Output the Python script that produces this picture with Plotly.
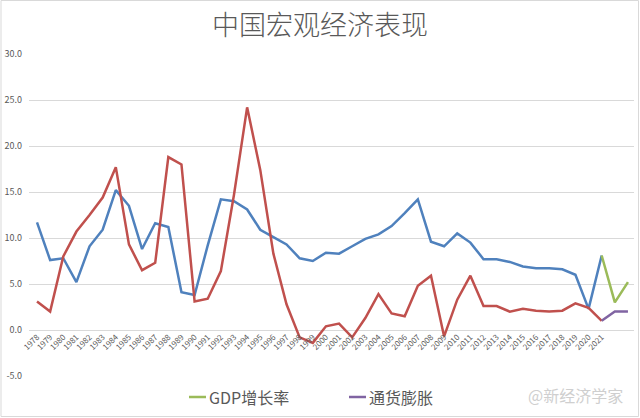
import plotly.graph_objects as go

years = list(range(1978, 2022))
gdp = [11.7, 7.6, 7.8, 5.2, 9.1, 10.9, 15.2, 13.5, 8.8, 11.6, 11.2, 4.1, 3.8, 9.2,
       14.2, 14.0, 13.1, 10.9, 10.1, 9.3, 7.8, 7.5, 8.4, 8.3, 9.1, 9.9, 10.4, 11.3,
       12.7, 14.2, 9.6, 9.1, 10.5, 9.5, 7.7, 7.7, 7.4, 6.9, 6.7, 6.7, 6.6, 6.0, 2.3, 8.1]
cpi = [3.1, 2.0, 8.0, 10.7, 12.5, 14.4, 17.7, 9.3, 6.5, 7.3, 18.8, 18.0, 3.1, 3.4,
       6.4, 14.7, 24.2, 17.4, 8.3, 2.8, -0.8, -1.4, 0.4, 0.7, -0.8, 1.3, 3.9, 1.8,
       1.5, 4.8, 5.9, -0.7, 3.3, 5.9, 2.6, 2.6, 2.0, 2.3, 2.1, 2.0, 2.1, 2.9, 2.4, 1.0]
fc_years = [2021, 2022, 2023]
gdp_fc = [8.1, 3.0, 5.2]
cpi_fc = [1.0, 2.0, 2.0]
tick_labels = [str(y) for y in years]
y_ticks = [-5, 0, 5, 10, 15, 20, 25, 30]

BLUE, RED, GREEN, PURPLE = "#4F81BD", "#C0504D", "#9BBB59", "#8064A2"
GRAY = "#595959"
FONT = "Noto Sans CJK SC"

fig = go.Figure()
fig.add_trace(go.Scatter(x=years, y=gdp, mode="lines", line=dict(color=BLUE, width=2.5),
                         name="GDP增长率", showlegend=False))
fig.add_trace(go.Scatter(x=years, y=cpi, mode="lines", line=dict(color=RED, width=2.5),
                         name="通货膨胀", showlegend=False))
fig.add_trace(go.Scatter(x=fc_years, y=gdp_fc, mode="lines", line=dict(color=GREEN, width=2.5),
                         name="GDP增长率", showlegend=False))
fig.add_trace(go.Scatter(x=fc_years, y=cpi_fc, mode="lines", line=dict(color=PURPLE, width=2.5),
                         name="通货膨胀", showlegend=False))

L, R, T, B = 29, 634, 54, 376
W, H = 640, 418
pw, ph = R - L, B - T

def px(x):
    return (x - L) / pw

def py(y):
    return (B - y) / ph

legend_y = 397

fig.update_layout(
    width=W, height=H,
    margin=dict(l=L, r=W - R, t=T, b=H - B, autoexpand=False),
    paper_bgcolor="white", plot_bgcolor="white",
    font=dict(family=FONT, color=GRAY),
    title=dict(text="中国宏观经济表现", x=0.5, xanchor="center", y=1 - 26 / H, yanchor="middle",
               yref="container", font=dict(size=27, color=GRAY, family=FONT, weight=300)),
    xaxis=dict(range=[1977.39, 2023.46], tickmode="array", tickvals=years, ticktext=tick_labels,
               tickangle=-45, tickfont=dict(size=8, color=GRAY), showgrid=False, zeroline=False,
               showline=False, ticks="", anchor="free", position=5 / 35, automargin=False),
    yaxis=dict(range=[-5, 30], tickmode="array", tickvals=y_ticks,
               ticktext=[f"{v:.1f}" for v in y_ticks], tickfont=dict(size=9, color=GRAY),
               showgrid=True, gridcolor="#D9D9D9", gridwidth=1, zeroline=False, showline=False,
               ticks="", ticklabelstandoff=6, automargin=False),
    shapes=[
        dict(type="rect", xref="paper", yref="paper", x0=px(1), x1=px(638.5),
             y0=py(416.5), y1=py(0.5), line=dict(color="#D9D9D9", width=1)),
        dict(type="line", xref="paper", yref="paper", x0=px(189), x1=px(206),
             y0=py(legend_y), y1=py(legend_y), line=dict(color=GREEN, width=2.5)),
        dict(type="line", xref="paper", yref="paper", x0=px(349), x1=px(366),
             y0=py(legend_y), y1=py(legend_y), line=dict(color=PURPLE, width=2.5)),
    ],
    annotations=[
        dict(text="GDP增长率", x=px(207), y=py(legend_y),
             xref="paper", yref="paper", xanchor="left", yanchor="middle", showarrow=False,
             font=dict(size=16, color=GRAY, family=FONT)),
        dict(text="通货膨胀", x=px(367), y=py(legend_y),
             xref="paper", yref="paper", xanchor="left", yanchor="middle", showarrow=False,
             font=dict(size=16, color=GRAY, family=FONT)),
        dict(text="@新经济学家", x=px(625), y=py(395), xref="paper", yref="paper",
             xanchor="right", yanchor="middle", showarrow=False,
             font=dict(size=16, color="#CFCFCF", family=FONT)),
    ],
)

fig.write_html("out.html")
